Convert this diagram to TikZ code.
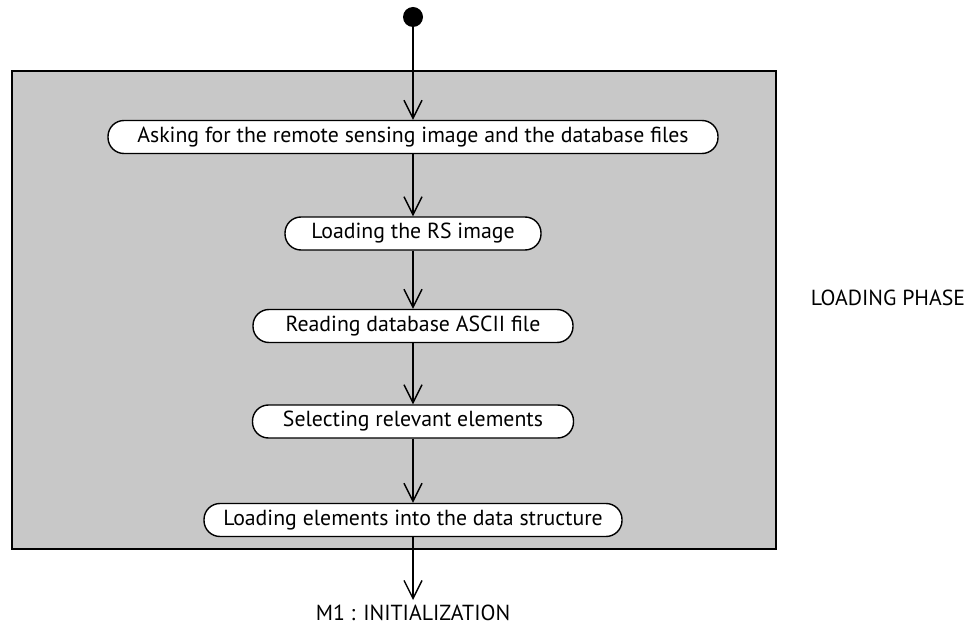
\documentclass[tikz,border=0pt]{standalone}
\usepackage{fontspec}
\setmainfont{PT Sans}
\usetikzlibrary{arrows.meta}
\definecolor{phasegray}{RGB}{200,200,200}
\begin{document}
\begin{tikzpicture}[x=1pt,y=-1pt,
  act/.style={draw=black,line width=1.4pt,fill=white,rounded corners=16pt,minimum height=33pt,inner sep=0pt,font=\fontsize{21.8}{24}\selectfont},
  flow/.style={line width=1.4pt,-{Straight Barb[length=18pt,width=18pt,line width=1.4pt]}},
  lbl/.style={font=\fontsize{21.8}{24}\selectfont}]
\useasboundingbox (0,0) rectangle (967,628);
\node[draw=black,line width=1.4pt,fill=phasegray,minimum width=764pt,minimum height=478pt,inner sep=0pt] (phase) at (394,310) {};
\node[circle,fill=black,minimum size=20pt,inner sep=0pt] (start) at (413,17) {};
\node[act,minimum width=610pt] (a1) at (413,137) {Asking for the remote sensing image and the database files};
\node[act,minimum width=256pt] (a2) at (413,233.5) {Loading the RS image};
\node[act,minimum width=320pt] (a3) at (413,326) {Reading database ASCII file};
\node[act,minimum width=321pt] (a4) at (413,421.5) {Selecting relevant elements};
\node[act,minimum width=418pt] (a5) at (413,520) {Loading elements into the data structure};
\coordinate (endc) at (413,600);
\node[lbl,anchor=north] (m1) at (413,601) {M1 : INITIALIZATION};
\node[lbl] (ph) at (888,298) {LOADING PHASE};
\draw[flow] (start) -- (a1);
\draw[flow] (a1) -- (a2);
\draw[flow] (a2) -- (a3);
\draw[flow] (a3) -- (a4);
\draw[flow] (a4) -- (a5);
\draw[flow] (a5) -- (endc);
\end{tikzpicture}
\end{document}
